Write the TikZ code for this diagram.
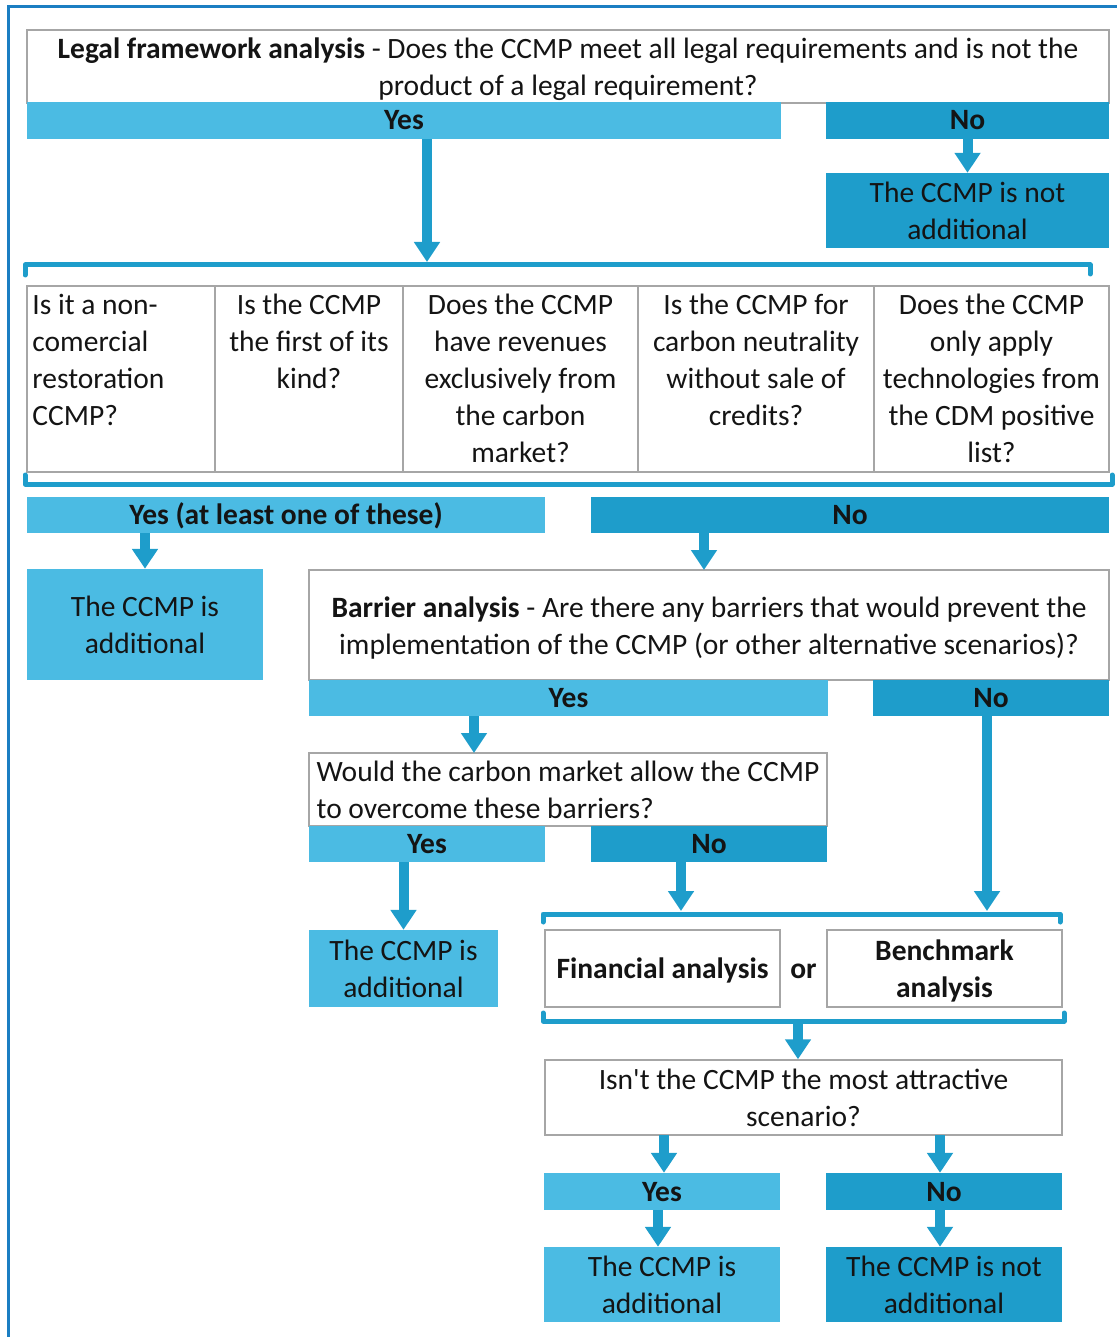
\documentclass[tikz,border=0pt]{standalone}
\usepackage{fontspec}
\setmainfont{Carlito}
\usepackage{xcolor}
\usepackage{tikz}
\usetikzlibrary{positioning}
\usetikzlibrary{calc,arrows.meta}

\definecolor{LightBlue}{HTML}{4BBBE3}
\definecolor{DarkBlue}{HTML}{1E9DCB}
\definecolor{FrameBlue}{HTML}{1B7EC2}
\definecolor{BoxGray}{HTML}{A6A6A6}
\definecolor{TextBlack}{HTML}{141414}

\begin{document}
\begin{tikzpicture}[x=1pt, y=-1pt,
	every node/.style={text=TextBlack, font=\fontsize{29.5}{37}\selectfont},
	% fixed height and depth for texts of one and of two lines
	one/.style={text height=27pt, text depth=8pt},
	two/.style={text height=65pt, text depth=7pt},
	qbox/.style={draw=BoxGray, line width=1.5pt, fill=white, inner sep=0pt, align=center},
	yesbar/.style={fill=LightBlue, inner sep=0pt, one, font=\fontsize{29.5}{37}\selectfont\bfseries},
	nobar/.style={fill=DarkBlue, inner sep=0pt, one, font=\fontsize{29.5}{37}\selectfont\bfseries},
	yesbox/.style={fill=LightBlue, inner sep=0pt, two, align=center},
	nobox/.style={fill=DarkBlue, inner sep=0pt, two, align=center},
	cell/.style={draw=BoxGray, line width=1.5pt, inner sep=0pt, minimum height=186pt},
	arr/.style={draw=DarkBlue, line width=10pt, -{Triangle[width=25pt,length=20pt]}},
	brk/.style={draw=DarkBlue, line width=5pt, line cap=round, line join=round},
	]
	
	% page and outer frame (it runs off the right and bottom edges)
	\useasboundingbox (0,0) rectangle (1116,1337);
	\draw[FrameBlue, line width=2.5pt] (8.5,1340) -- (8.5,6.5) -- (1120,6.5);
	
	%%%%%%%%%%%%%%%%%%%%%%%%%%%%%%%%%%%%%%%%%%%%%%%%%%%%%%%%%%%%%%
	% Legal framework analysis
	\node[qbox, two, minimum width=1082pt, minimum height=73pt] (legal) at (568,66.5)
		{\textbf{Legal framework analysis} - Does the CCMP meet all legal requirements and is not the\\product of a legal requirement?};
	\node[yesbar, minimum width=754pt, minimum height=37pt] (yesA) at (404,120.5) {Yes};
	\node[nobar, minimum width=283pt, minimum height=37pt] (noA) at (967.5,120.5) {No};
	\node[nobox, minimum width=283pt, minimum height=75pt] (notA) at (967.5,210.5)
		{The CCMP is not\\additional};
	
	\coordinate (brTop) at (427,262);
	\draw[arr] (noA.south) -- (notA.north);
	\draw[arr] (yesA.south -| brTop) -- (brTop);
	
	% bracket above the five questions
	\draw[brk] (25,275) -- (25,265) -- (1090,265) -- (1090,274);
	
	%%%%%%%%%%%%%%%%%%%%%%%%%%%%%%%%%%%%%%%%%%%%%%%%%%%%%%%%%%%%%%
	% the five questions
	\node[cell, minimum width=188pt] (c1) at (121,379) {};
	\node[cell, minimum width=188pt] (c2) at (309,379) {};
	\node[cell, minimum width=235pt] (c3) at (520.5,379) {};
	\node[cell, minimum width=236pt] (c4) at (756,379) {};
	\node[cell, minimum width=235pt] (c5) at (991.5,379) {};
	
	\node[anchor=north west, inner sep=0pt, align=left] (q1) at ($(c1.north west)+(6,9)$)
		{Is it a non-\\comercial\\restoration\\CCMP?};
	\node[anchor=north, inner sep=0pt, align=center] (q2) at ($(c2.north)+(0,9)$)
		{Is the CCMP\\the first of its\\kind?};
	\node[anchor=north, inner sep=0pt, align=center] (q3) at ($(c3.north)+(0,9)$)
		{Does the CCMP\\have revenues\\exclusively from\\the carbon\\market?};
	\node[anchor=north, inner sep=0pt, align=center] (q4) at ($(c4.north)+(0,9)$)
		{Is the CCMP for\\carbon neutrality\\without sale of\\credits?};
	\node[anchor=north, inner sep=0pt, align=center] (q5) at ($(c5.north)+(0,9)$)
		{Does the CCMP\\only apply\\technologies from\\the CDM positive\\list?};
	
	% bracket below the five questions
	\draw[brk] (25,475) -- (25,484) -- (1112,484) -- (1112,475);
	
	\node[yesbar, minimum width=518pt, minimum height=36pt] (yesB) at (286,515) {Yes (at least one of these)};
	\node[nobar, minimum width=518pt, minimum height=36pt] (noB) at (850,515) {No};
	
	\node[yesbox, minimum width=236pt, minimum height=111pt] (addB) at (145,624.5)
		{The CCMP is\\additional};
	\draw[arr] (yesB.south -| addB.north) -- (addB.north);
	
	%%%%%%%%%%%%%%%%%%%%%%%%%%%%%%%%%%%%%%%%%%%%%%%%%%%%%%%%%%%%%%
	% Barrier analysis
	\node[qbox, two, minimum width=800pt, minimum height=110pt] (barrier) at (709,625)
		{\textbf{Barrier analysis} - Are there any barriers that would prevent the\\implementation of the CCMP (or other alternative scenarios)?};
	\coordinate (inB) at (704,570);
	\draw[arr] (noB.south -| inB) -- (inB);
	
	\node[yesbar, minimum width=519pt, minimum height=36pt] (yesC) at (568.5,698) {Yes};
	\node[nobar, minimum width=236pt, minimum height=36pt] (noC) at (991,698) {No};
	
	% carbon market question
	\node[qbox, two, minimum width=518pt, minimum height=73pt, align=left] (market) at (568,789.5)
		{Would the carbon market allow the CCMP\\to overcome these barriers?};
	\coordinate (inC) at (474,753);
	\draw[arr] (yesC.south -| inC) -- (inC);
	
	\node[yesbar, minimum width=236pt, minimum height=36pt] (yesD) at (427,844) {Yes};
	\node[nobar, minimum width=236pt, minimum height=36pt] (noD) at (709,844) {No};
	
	\node[yesbox, minimum width=189pt, minimum height=77pt] (addD) at (403.5,968.5)
		{The CCMP is\\additional};
	\draw[arr] (yesD.south -| addD.north) -- (addD.north);
	
	% into the bracket over the two analyses
	\coordinate (brL) at (681,911);
	\coordinate (brR) at (987,911);
	\draw[arr] (noD.south -| brL) -- (brL);
	\draw[arr] (noC.south -| brR) -- (brR);
	
	\draw[brk] (543,922) -- (543,914) -- (1060,914) -- (1060,922);
	
	%%%%%%%%%%%%%%%%%%%%%%%%%%%%%%%%%%%%%%%%%%%%%%%%%%%%%%%%%%%%%%
	% Financial or Benchmark analysis
	\node[qbox, one, minimum width=235pt, minimum height=77pt, font=\fontsize{29.5}{37}\selectfont\bfseries] (fin) at (662.5,968.5)
		{Financial analysis};
	\node[one, font=\fontsize{29.5}{37}\selectfont\bfseries, inner sep=0pt] (or) at (803.5,968.5) {or};
	\node[qbox, two, minimum width=235pt, minimum height=77pt, font=\fontsize{29.5}{37}\selectfont\bfseries] (bench) at (944.5,968.5)
		{Benchmark\\analysis};
	
	\draw[brk] (543,1013) -- (543,1021) -- (1064,1021) -- (1064,1013);
	
	% most attractive scenario
	\node[qbox, two, minimum width=517pt, minimum height=75pt] (attr) at (803.5,1097.5)
		{Isn\textquotesingle t the CCMP the most attractive\\scenario?};
	\coordinate (brOut) at (798,1023);
	\draw[arr] (brOut) -- (brOut |- attr.north);
	
	\node[yesbar, minimum width=236pt, minimum height=37pt] (yesE) at (662,1191.5) {Yes};
	\node[nobar, minimum width=236pt, minimum height=37pt] (noE) at (944,1191.5) {No};
	
	\coordinate (outY) at (664,1135);
	\coordinate (outN) at (940,1135);
	\draw[arr] (outY) -- (outY |- yesE.north);
	\draw[arr] (outN) -- (outN |- noE.north);
	
	\node[yesbox, minimum width=236pt, minimum height=75pt] (addE) at (662,1284.5)
		{The CCMP is\\additional};
	\node[nobox, minimum width=236pt, minimum height=75pt] (notE) at (944,1284.5)
		{The CCMP is not\\additional};
	\draw[arr] (yesE.south -| 658,0) -- (addE.north -| 658,0);
	\draw[arr] (noE.south -| outN) -- (notE.north -| outN);
	
\end{tikzpicture}
\end{document}
